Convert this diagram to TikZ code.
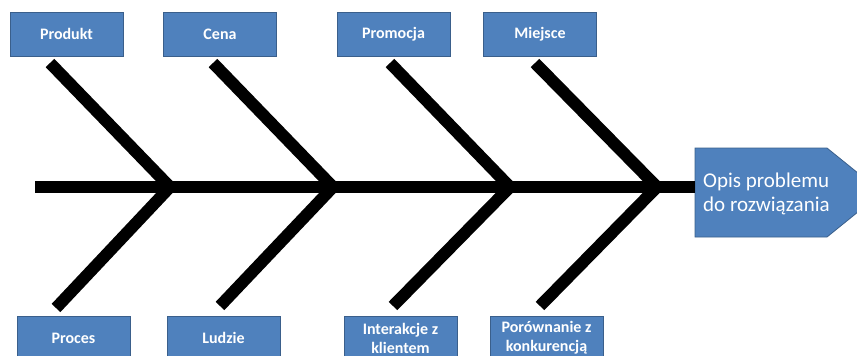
\documentclass[tikz,border=0pt]{standalone}
\usepackage{fontspec}
\setmainfont{Carlito}
\definecolor{boxfill}{HTML}{4F81BD}
\definecolor{boxline}{HTML}{3A5F8B}
\begin{document}
\begin{tikzpicture}[x=1pt,y=-1pt,
  cause/.style={draw=boxline, line width=0.8pt, fill=boxfill, text=white,
    minimum width=113pt, minimum height=44pt, inner sep=2pt, align=center,
    font=\fontsize{16}{19}\selectfont\bfseries},
  bone/.style={line width=12pt, line cap=butt, line join=miter, miter limit=10},
  headtext/.style={text=white, align=left, inner sep=0pt, anchor=west,
    font=\fontsize{21}{24}\selectfont}]
  \useasboundingbox (0,0) rectangle (857,356);
  \begin{scope}
  \clip (0,0) rectangle (857,356);

  % category boxes, top row
  \node[cause] (produkt)  at (66.5,34)  {Produkt};
  \node[cause] (cena)     at (220,34)   {Cena};
  \node[cause] (promocja) at (393.5,34) {Promocja};
  \node[cause] (miejsce)  at (540,34)   {Miejsce};

  % category boxes, bottom row
  \node[cause] (proces)     at (73.5,338) {Proces};
  \node[cause] (ludzie)     at (223.5,338) {Ludzie};
  \node[cause] (interakcje) at (400.5,338) {Interakcje z\\klientem};
  \node[cause] (porownanie) at (546.5,338) {Porównanie z\\konkurencją};

  % problem head (pentagon arrow)
  \fill[boxfill] (695,148) -- (827,148) -- (882,192.5) -- (827,237) -- (695,237) -- cycle;
  \draw[boxline, line width=0.8pt] (695,237) -- (695,148) -- (827,148) -- (882,192.5) -- (827,237) -- cycle;
  \node[headtext] (problem) at (703,194) {Opis problemu\\do rozwiązania};
  \coordinate (head) at (695,187);
  \coordinate (tail) at (35,187);

  % points where the bones meet the spine
  \coordinate (v1) at (170,187);
  \coordinate (v2) at (333,187);
  \coordinate (v3) at (510,187);
  \coordinate (v4) at (657,187);

  % free ends of the bones
  \coordinate (t1) at (50,63);  \coordinate (b1) at (56,308);
  \coordinate (t2) at (213,63); \coordinate (b2) at (220,306);
  \coordinate (t3) at (390,63); \coordinate (b3) at (393,306);
  \coordinate (t4) at (535,63); \coordinate (b4) at (540,306);

  % spine
  \draw[bone] (tail) -- (head);

  % bones
  \draw[bone] (t1) -- (v1) -- (b1);
  \draw[bone] (t2) -- (v2) -- (b2);
  \draw[bone] (t3) -- (v3) -- (b3);
  \draw[bone] (t4) -- (v4) -- (b4);
  \end{scope}
\end{tikzpicture}
\end{document}
